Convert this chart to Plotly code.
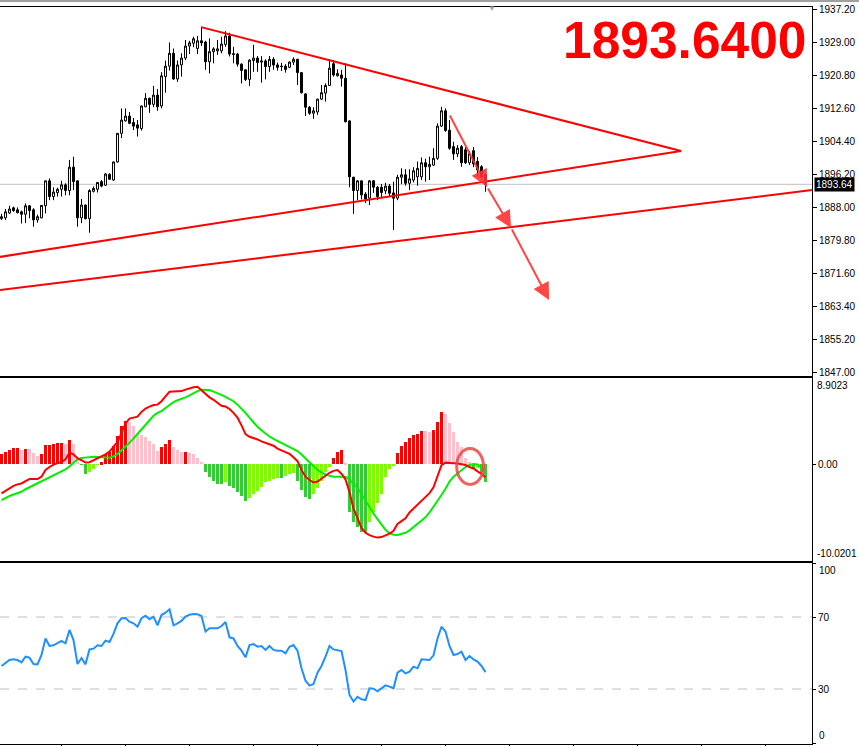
import plotly.graph_objects as go

# ---------------- data ----------------
bar_index = list(range(122))

open_ = [1885.1, 1885.3, 1886.5, 1887.8, 1887.3, 1886.8, 1886.2, 1888.3, 1887.3, 1884.8,
         1885.3, 1888.3, 1894.5, 1890.6, 1891.6, 1892.4, 1893.5, 1892.1, 1897.9, 1894.5,
         1885.3, 1888.5, 1885.1, 1891.9, 1892.4, 1894.3, 1893.4, 1896.1, 1894.7, 1899.2,
         1906.3, 1909.4, 1910.6, 1909.0, 1908.4, 1907.5, 1912.9, 1915.0, 1913.5, 1915.8,
         1913.1, 1920.4, 1923.0, 1926.2, 1919.8, 1923.3, 1925.0, 1928.0, 1928.7, 1927.4,
         1929.3, 1929.0, 1924.1, 1926.6, 1926.8, 1926.8, 1928.4, 1930.5, 1926.1, 1926.0,
         1923.5, 1922.1, 1919.7, 1924.4, 1925.0, 1924.0, 1924.3, 1922.9, 1924.7, 1923.3,
         1923.0, 1923.0, 1922.7, 1924.0, 1924.7, 1921.4, 1916.1, 1912.8, 1911.3, 1911.6,
         1914.8, 1916.3, 1918.2, 1923.6, 1920.6, 1920.8, 1920.0, 1909.4, 1895.4, 1892.1,
         1894.5, 1891.2, 1890.2, 1894.5, 1892.9, 1892.9, 1892.0, 1893.2, 1891.5, 1890.2,
         1895.4, 1896.0, 1893.9, 1894.7, 1895.5, 1895.5, 1899.0, 1898.0, 1898.4, 1900.1,
         1908.1, 1911.9, 1907.1, 1903.0, 1901.2, 1903.0, 1902.2, 1899.0, 1902.0, 1899.3,
         1898.0, 1896.0]
high = [1886.3, 1887.5, 1888.3, 1888.1, 1887.9, 1887.1, 1888.9, 1888.5, 1887.7, 1886.1,
        1888.5, 1894.6, 1895.1, 1892.9, 1892.8, 1894.5, 1893.9, 1899.7, 1900.5, 1894.6,
        1890.0, 1888.6, 1892.4, 1893.1, 1894.2, 1894.7, 1896.4, 1896.4, 1899.3, 1906.4,
        1912.5, 1912.5, 1911.6, 1910.1, 1909.6, 1913.2, 1916.3, 1915.2, 1918.1, 1917.3,
        1921.5, 1924.4, 1928.9, 1927.4, 1924.4, 1926.2, 1929.5, 1929.3, 1930.3, 1930.5,
        1932.8, 1929.3, 1929.9, 1927.7, 1929.5, 1930.3, 1931.7, 1931.3, 1927.8, 1926.3,
        1923.7, 1922.2, 1924.7, 1928.3, 1925.5, 1925.5, 1924.7, 1925.5, 1925.2, 1923.9,
        1923.8, 1923.5, 1924.2, 1925.2, 1924.8, 1921.5, 1916.3, 1913.1, 1912.8, 1914.9,
        1918.3, 1918.7, 1924.7, 1924.5, 1922.2, 1922.1, 1923.7, 1909.5, 1895.5, 1894.7,
        1894.6, 1891.7, 1894.7, 1894.7, 1893.2, 1893.7, 1894.0, 1893.7, 1894.3, 1896.0,
        1897.6, 1897.4, 1897.4, 1897.9, 1899.3, 1900.3, 1900.0, 1900.5, 1902.6, 1908.8,
        1912.9, 1912.5, 1909.6, 1904.2, 1903.4, 1903.4, 1902.9, 1901.9, 1902.9, 1900.4,
        1898.4, 1896.4]
low = [1884.8, 1884.8, 1886.3, 1886.8, 1886.4, 1883.9, 1884.0, 1885.2, 1883.1, 1884.1,
       1885.2, 1886.4, 1889.7, 1889.7, 1890.6, 1890.6, 1890.9, 1890.9, 1892.2, 1883.1,
       1884.0, 1884.9, 1881.6, 1891.6, 1891.6, 1892.9, 1893.2, 1894.7, 1894.5, 1899.0,
       1905.1, 1909.2, 1908.6, 1907.1, 1905.5, 1907.0, 1912.8, 1911.4, 1912.8, 1911.9,
       1912.5, 1916.4, 1921.9, 1919.6, 1919.1, 1920.4, 1924.5, 1926.0, 1927.7, 1926.0,
       1928.0, 1922.1, 1921.2, 1923.7, 1925.8, 1926.2, 1927.8, 1925.4, 1923.7, 1922.9,
       1918.7, 1919.3, 1918.1, 1921.6, 1921.6, 1918.9, 1919.7, 1921.6, 1922.1, 1921.9,
       1921.8, 1921.4, 1922.5, 1923.3, 1918.3, 1916.2, 1910.6, 1910.9, 1909.9, 1910.9,
       1914.6, 1914.2, 1918.1, 1920.4, 1920.4, 1917.9, 1909.0, 1892.9, 1886.3, 1889.7,
       1889.9, 1889.0, 1888.5, 1891.5, 1889.7, 1890.4, 1891.2, 1890.7, 1882.3, 1889.7,
       1893.7, 1893.3, 1892.2, 1894.1, 1893.3, 1894.7, 1894.3, 1894.7, 1898.2, 1899.7,
       1907.9, 1906.7, 1902.2, 1899.7, 1900.4, 1898.0, 1898.7, 1898.4, 1897.9, 1895.5,
       1895.2, 1891.8]
close = [1885.6, 1886.8, 1887.5, 1887.1, 1886.6, 1886.2, 1888.3, 1887.1, 1884.8, 1885.6,
         1888.4, 1894.5, 1890.6, 1891.7, 1892.4, 1893.5, 1892.1, 1897.9, 1894.3, 1885.3,
         1888.5, 1885.1, 1892.1, 1892.6, 1894.1, 1893.2, 1896.2, 1894.9, 1899.2, 1906.3,
         1909.6, 1910.6, 1908.8, 1908.1, 1907.6, 1913.1, 1915.0, 1913.5, 1915.8, 1912.9,
         1920.6, 1923.0, 1926.2, 1919.8, 1923.3, 1925.0, 1928.0, 1928.8, 1929.8, 1929.3,
         1928.8, 1924.1, 1926.6, 1927.3, 1927.3, 1928.5, 1930.5, 1926.0, 1925.9, 1923.5,
         1921.9, 1919.7, 1924.5, 1925.0, 1923.9, 1924.3, 1922.9, 1924.7, 1923.3, 1922.7,
         1922.9, 1922.2, 1924.0, 1924.7, 1921.4, 1916.4, 1912.8, 1911.3, 1911.9, 1914.8,
         1916.4, 1918.2, 1922.5, 1920.8, 1921.2, 1920.0, 1909.2, 1895.5, 1892.1, 1894.5,
         1891.0, 1890.0, 1894.5, 1892.9, 1890.6, 1891.6, 1893.2, 1891.4, 1890.2, 1895.4,
         1896.0, 1893.9, 1895.0, 1897.0, 1897.6, 1899.0, 1898.0, 1898.6, 1900.1, 1908.1,
         1911.9, 1907.0, 1902.6, 1901.2, 1902.6, 1899.0, 1899.0, 1901.2, 1898.7, 1897.2,
         1895.5, 1893.64]

macd_hist = [1.03, 1.28, 1.45, 1.65, 1.66, 1.45, 1.55, 1.55, 1.17, 0.86,
             1.03, 1.96, 1.97, 2.07, 2.17, 2.18, 2.07, 2.48, 2.07, 0.76,
             -0.05, -1.03, -0.83, -0.52, -0.05, 0.2, 1.03, 1.24, 1.86, 2.9,
             3.93, 4.45, 4.34, 3.93, 3.1, 3.0, 2.79, 2.38, 2.07, 1.34,
             1.76, 2.07, 2.48, 1.76, 1.45, 1.24, 1.28, 1.14, 1.03, 0.62,
             0.21, -0.83, -1.34, -1.76, -2.07, -2.1, -1.86, -2.28, -2.48, -2.9,
             -3.31, -3.83, -3.5, -3.05, -2.78, -2.34, -1.83, -1.72, -1.55, -1.41,
             -1.45, -1.21, -1.03, -0.9, -1.76, -2.69, -3.38, -3.62, -3.1, -2.52,
             -1.76, -0.8, -0.28, 0.59, 1.21, 1.41, 0.07, -4.93, -5.96, -6.48,
             -7.0, -7.1, -5.96, -4.93, -4.07, -3.1, -1.38, -0.52, -0.1, 1.1,
             1.9, 2.31, 2.65, 3.0, 3.07, 3.41, 3.38, 3.34, 3.52, 4.31,
             5.41, 5.14, 4.21, 3.34, 2.31, 1.79, 0.65, 0.17, -0.45, -0.42,
             -0.86, -1.83]
macd_line = [-3.03, -2.75, -2.45, -2.25, -2.1, -2.0, -1.75, -1.55, -1.55, -1.55,
             -1.3, -0.6, -0.3, -0.05, 0.1, 0.2, 0.5, 1.2, 1.0, 0.6,
             0.4, 0.17, 0.2, 0.4, 0.65, 0.86, 1.0, 1.3, 1.75, 2.3,
             3.2, 4.2, 4.7, 4.8, 4.9, 5.4, 5.75, 5.95, 6.1, 6.15,
             6.5, 7.0, 7.48, 7.5, 7.52, 7.55, 7.7, 7.85, 7.95, 8.0,
             7.6, 7.2, 6.9, 6.65, 6.3, 6.03, 5.95, 5.7, 5.3, 4.8,
             4.0, 3.1, 2.83, 2.7, 2.55, 2.35, 2.2, 2.1, 1.9, 1.6,
             1.4, 1.2, 1.05, 0.7, 0.3, -0.6, -1.3, -1.65, -1.9, -1.8,
             -1.5, -1.2, -0.9, -0.7, -0.62, -1.0, -1.6, -2.9, -4.6, -5.6,
             -6.6, -7.1, -7.35, -7.5, -7.6, -7.55, -7.4, -7.2, -6.9, -6.2,
             -5.9, -5.6, -5.0, -4.6, -4.2, -3.8, -3.4, -3.0, -2.4, -1.2,
             -0.1, 0.15, 0.15, 0.1, 0.05, -0.05, -0.1, -0.3, -0.45, -0.75,
             -1.0, -1.35]
signal_line = [-3.72, -3.5, -3.3, -3.15, -3.0, -2.86, -2.6, -2.4, -2.2, -2.0,
               -1.83, -1.6, -1.4, -1.2, -1.0, -0.8, -0.55, -0.25, 0.1, 0.5,
               0.62, 0.7, 0.72, 0.75, 0.76, 0.72, 0.68, 0.66, 0.8, 1.05,
               1.4, 1.75, 2.2, 2.65, 3.1, 3.6, 4.1, 4.5, 5.0, 5.3,
               5.48, 5.8, 6.15, 6.4, 6.6, 6.72, 6.9, 7.1, 7.35, 7.55,
               7.69, 7.7, 7.65, 7.5, 7.35, 7.15, 6.95, 6.75, 6.5, 6.15,
               5.76, 5.3, 4.8, 4.3, 3.85, 3.5, 3.15, 2.85, 2.6, 2.4,
               2.2, 2.0, 1.8, 1.6, 1.35, 1.0, 0.6, 0.2, -0.25, -0.6,
               -0.85, -1.07, -1.2, -1.3, -1.31, -1.31, -1.32, -1.6, -2.0, -2.45,
               -3.1, -3.8, -4.5, -5.1, -5.7, -6.3, -6.8, -7.15, -7.3, -7.34,
               -7.25, -7.1, -6.85, -6.5, -6.25, -5.9, -5.5, -5.0, -4.4, -3.9,
               -3.2, -2.55, -1.8, -1.3, -0.95, -0.6, -0.3, -0.1, 0.0, -0.05,
               -0.4, -0.75]
rsi = [42.8, 44.3, 46.1, 46.5, 46.1, 44.8, 48.0, 47.4, 43.9, 43.7,
       48.9, 58.1, 53.9, 54.3, 55.4, 56.7, 55.4, 62.8, 57.2, 43.9,
       47.2, 43.7, 52.0, 52.4, 54.3, 53.9, 56.9, 56.1, 60.6, 66.5,
       69.3, 69.4, 67.4, 66.5, 64.6, 69.3, 70.7, 68.7, 70.2, 65.4,
       71.1, 72.4, 74.3, 65.4, 66.5, 67.8, 70.2, 71.3, 71.7, 71.5,
       70.6, 61.9, 63.7, 63.7, 63.7, 65.0, 67.2, 58.7, 58.1, 53.9,
       51.3, 47.6, 54.4, 55.0, 53.5, 53.9, 51.7, 53.9, 51.7, 51.3,
       51.3, 49.8, 53.5, 54.4, 51.3, 41.5, 34.6, 31.9, 32.8, 39.1,
       42.8, 48.0, 53.9, 52.0, 51.7, 51.1, 40.6, 26.7, 23.0, 25.7,
       24.3, 23.9, 30.4, 30.2, 28.7, 30.2, 32.0, 31.3, 30.4, 39.1,
       40.6, 38.7, 39.6, 42.4, 41.5, 46.5, 46.1, 46.1, 48.7, 58.1,
       64.6, 61.9, 53.9, 48.9, 49.4, 50.7, 46.1, 48.3, 46.5, 45.2,
       42.8, 39.4]

price_ticks = [1937.20, 1929.00, 1920.80, 1912.60, 1904.40, 1896.20,
               1888.00, 1879.80, 1871.60, 1863.40, 1855.20, 1847.00]
last_price = 1893.64
big_price_text = "1893.6400"
macd_max, macd_min = 8.9023, -10.0201
rsi_levels = [70, 30]
time_ticks = [15, 31, 47, 63, 79, 95, 111, 127, 143, 159, 175, 191]

# drawn objects (bar index, price)
resist_idx, resist_price = [49.9, 169.9], [1932.7, 1901.9]
support_idx, support_price = [-0.4, 169.9], [1875.6, 1901.9]
base_idx, base_price = [-0.4, 202.6], [1867.4, 1892.2]
arrow_idx = [111.9, 121.4, 127.4, 136.9]
arrow_price = [1911.1, 1893.0, 1882.8, 1864.9]
circle_idx = [113.8, 120.5]
circle_val = [-2.1, 1.62]

# ---------------- layout geometry ----------------
X_RANGE = [-0.375, 202.625]
FONT = "Liberation Sans"

def hist_colors(vals):
    cols = []
    prev = None
    for v in vals:
        rising = prev is None or v > prev
        if v >= 0:
            cols.append("#ff0000" if rising else "#ffc0cb")
        else:
            cols.append("#7cfc00" if (prev is not None and v > prev) else "#32cd32")
        prev = v
    return cols

fig = go.Figure()

fig.add_trace(go.Candlestick(
    x=bar_index, open=open_, high=high, low=low, close=close,
    increasing=dict(line=dict(color="black", width=1), fillcolor="white"),
    decreasing=dict(line=dict(color="black", width=1), fillcolor="black"),
    whiskerwidth=0, showlegend=False, hoverinfo="skip",
    xaxis="x", yaxis="y"))

for xs, ys in [(resist_idx, resist_price), (support_idx, support_price), (base_idx, base_price)]:
    fig.add_trace(go.Scatter(x=xs, y=ys, mode="lines",
                             line=dict(color="#ff0000", width=2),
                             showlegend=False, hoverinfo="skip",
                             xaxis="x", yaxis="y"))

fig.add_trace(go.Bar(x=bar_index, y=macd_hist, marker=dict(color=hist_colors(macd_hist), line=dict(width=0)),
                     width=0.75, showlegend=False, hoverinfo="skip", xaxis="x2", yaxis="y2"))
fig.add_trace(go.Scatter(x=bar_index, y=signal_line, mode="lines", line=dict(color="#00f000", width=2),
                         showlegend=False, hoverinfo="skip", xaxis="x2", yaxis="y2"))
fig.add_trace(go.Scatter(x=bar_index, y=macd_line, mode="lines", line=dict(color="#ff0000", width=2),
                         showlegend=False, hoverinfo="skip", xaxis="x2", yaxis="y2"))

fig.add_trace(go.Scatter(x=bar_index, y=rsi, mode="lines", line=dict(color="#1e90ff", width=2),
                         showlegend=False, hoverinfo="skip", xaxis="x3", yaxis="y3"))

H = 746
PT, PB = 7, 744
def py(p):
    return (PB - p) / (PB - PT)

axis_common = dict(showgrid=False, zeroline=False, showline=True, linecolor="black", linewidth=1)
xbase = dict(range=X_RANGE, showticklabels=False, mirror=True, **axis_common)

fig.update_layout(
    width=859, height=H,
    margin=dict(l=0, r=47, t=PT, b=H - PB, autoexpand=False),
    paper_bgcolor="white", plot_bgcolor="white",
    font=dict(family=FONT, size=10, color="black"),
    boxgap=0.3, bargap=0,
    showlegend=False,
    xaxis=dict(domain=[0, 1], anchor="y", ticks="", rangeslider=dict(visible=False), **xbase),
    xaxis2=dict(domain=[0, 1], anchor="y2", ticks="", matches="x", **xbase),
    xaxis3=dict(domain=[0, 1], anchor="y3", ticks="outside", ticklen=4, tickcolor="black",
                tickvals=time_ticks, matches="x", **xbase),
    yaxis=dict(domain=[py(376), 1], range=[1846.006, 1937.697], side="right",
               tickvals=price_ticks, ticktext=[f"{v:.2f}" for v in price_ticks],
               ticks="outside", ticklen=4, tickcolor="black", tickfont=dict(size=10, family=FONT),
               automargin=False, **axis_common),
    yaxis2=dict(domain=[py(561), py(378)], range=[macd_min, macd_max], side="right",
                tickvals=[0], ticktext=["0.00"], ticks="outside", ticklen=3, tickcolor="black",
                tickfont=dict(size=10, family=FONT), automargin=False, **axis_common),
    yaxis3=dict(domain=[0, py(563)], range=[-0.55, 100], side="right",
                tickvals=[100, 70, 30, 0], ticktext=["", "70", "30", ""],
                ticks="outside", ticklen=3, tickcolor="black",
                tickfont=dict(size=10, family=FONT), automargin=False, **axis_common),
)

shapes = [
    dict(type="line", xref="x domain", yref="y", x0=0, x1=1, y0=last_price, y1=last_price,
         line=dict(color="#c0c0c0", width=1), layer="below"),
    dict(type="circle", xref="x2", yref="y2", x0=circle_idx[0], x1=circle_idx[1],
         y0=circle_val[0], y1=circle_val[1], line=dict(color="rgba(235,70,70,0.85)", width=3)),
    dict(type="line", xref="paper", yref="paper", x0=0, x1=859 / 812, y0=py(1), y1=py(1),
         line=dict(color="#a0a0a0", width=2)),
]
for lvl in rsi_levels:
    shapes.append(dict(type="line", xref="x3 domain", yref="y3", x0=0, x1=1, y0=lvl, y1=lvl,
                       line=dict(color="#c0c0c0", width=1, dash="dash"), layer="below"))
fig.update_layout(shapes=shapes)

ann = [
    dict(text="<b>" + big_price_text + "</b>", xref="paper", yref="paper", x=808 / 812, y=py(40),
         xanchor="right", yanchor="middle", showarrow=False,
         font=dict(family=FONT, size=51.5, color="#ff0000")),
    dict(text=f"{last_price:.2f}", xref="paper", yref="y", x=1, y=last_price, xanchor="left",
         xshift=2, yanchor="middle", showarrow=False, bgcolor="black", borderpad=1,
         font=dict(family=FONT, size=10, color="white")),
    dict(text=f"{macd_max:.4f}", xref="paper", yref="y2", x=1, y=macd_max, xanchor="left", xshift=3,
         yanchor="top", showarrow=False, font=dict(family=FONT, size=10, color="black")),
    dict(text=f"{macd_min:.4f}", xref="paper", yref="y2", x=1, y=macd_min, xanchor="left", xshift=3,
         yanchor="bottom", showarrow=False, font=dict(family=FONT, size=10, color="black")),
    dict(text="100", xref="paper", yref="y3", x=1, y=100, xanchor="left", xshift=5,
         yanchor="top", showarrow=False, font=dict(family=FONT, size=10, color="black")),
    dict(text="0", xref="paper", yref="y3", x=1, y=0, xanchor="left", xshift=5,
         yanchor="bottom", showarrow=False, font=dict(family=FONT, size=10, color="black")),
    dict(text="▼", xref="paper", yref="paper", x=492 / 812, y=py(9), xanchor="center",
         yanchor="middle", showarrow=False, font=dict(size=8, color="#a8a8a8")),
]
for k in range(len(arrow_idx) - 1):
    ann.append(dict(text="", x=arrow_idx[k + 1], y=arrow_price[k + 1], xref="x", yref="y",
                    ax=arrow_idx[k], ay=arrow_price[k], axref="x", ayref="y",
                    showarrow=True, arrowhead=2, arrowsize=1.7, arrowwidth=2, standoff=0,
                    arrowcolor="rgba(255,50,50,0.9)"))
fig.update_layout(annotations=ann)

fig.write_html("out.html", config=dict(displayModeBar=False),
               post_script="document.body.style.margin='0';document.body.style.overflow='hidden';")
